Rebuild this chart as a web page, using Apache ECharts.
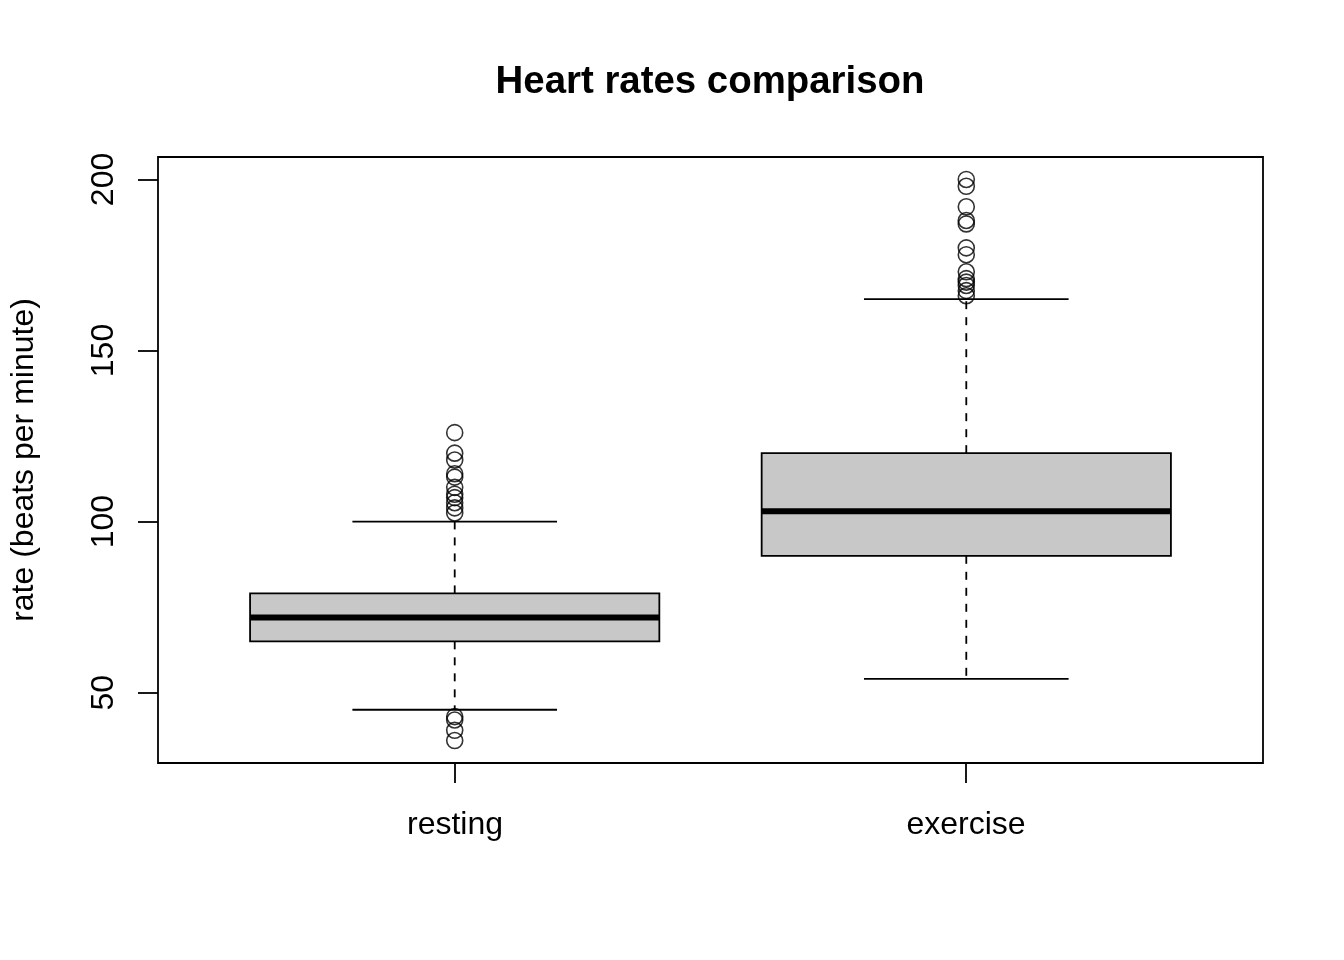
<!DOCTYPE html>
<html>
<head>
<meta charset="utf-8">
<script src="https://cdn.jsdelivr.net/npm/echarts@6/dist/echarts.min.js"></script>
<style>html,body{margin:0;padding:0;background:#fff}#c{width:1344px;height:960px}</style>
</head>
<body>
<div id="c"></div>
<script>
const categories = ['resting', 'exercise'];
// [min whisker, Q1, median, Q3, max whisker]
const boxStats = [
  [45, 65, 72, 79, 100],
  [54, 90, 103, 120, 165]
];
const restingOutliers = [126, 120, 118, 114, 113, 110, 108, 107, 105.5, 104, 102.5, 43, 42, 39, 36];
const exerciseOutliers = [200, 198, 192, 188, 187, 180, 178, 173, 171, 170, 169, 167.5, 166];
const yTicks = [50, 100, 150, 200];
const yMin = 29.44, yMax = 206.56;

const FONT = 'Liberation Sans, Arial, Helvetica, sans-serif';

const boxData = boxStats.map((s, i) => [i + 1].concat(s));
const outlierData = []
  .concat(restingOutliers.map(v => [1, v]))
  .concat(exerciseOutliers.map(v => [2, v]));

const chart = echarts.init(document.getElementById('c'), null, {renderer: 'canvas'});

function renderBox(params, api) {
  const x = api.value(0);
  const lo = api.value(1), q1 = api.value(2), med = api.value(3), q3 = api.value(4), hi = api.value(5);
  const halfW = (api.coord([x + 0.4, 0])[0] - api.coord([x - 0.4, 0])[0]) / 2;
  const cx = api.coord([x, 0])[0];
  const yLo = api.coord([x, lo])[1], yQ1 = api.coord([x, q1])[1], yMed = api.coord([x, med])[1];
  const yQ3 = api.coord([x, q3])[1], yHi = api.coord([x, hi])[1];
  const capW = halfW / 2;
  const line = {stroke: '#000', lineWidth: 1.8};
  const dashed = {stroke: '#000', lineWidth: 1.8, lineDash: [8, 8]};
  return {
    type: 'group',
    children: [
      {type: 'line', shape: {x1: cx, y1: yQ3, x2: cx, y2: yHi}, style: dashed},
      {type: 'line', shape: {x1: cx, y1: yQ1, x2: cx, y2: yLo}, style: dashed},
      {type: 'line', shape: {x1: cx - capW, y1: yHi, x2: cx + capW, y2: yHi}, style: line},
      {type: 'line', shape: {x1: cx - capW, y1: yLo, x2: cx + capW, y2: yLo}, style: line},
      {type: 'rect', shape: {x: cx - halfW, y: yQ3, width: 2 * halfW, height: yQ1 - yQ3},
        style: {fill: '#c8c8c8', stroke: '#000', lineWidth: 1.8}},
      {type: 'line', shape: {x1: cx - halfW, y1: yMed, x2: cx + halfW, y2: yMed},
        style: {stroke: '#000', lineWidth: 6}}
    ]
  };
}

chart.setOption({
  animation: false,
  backgroundColor: '#fff',
  title: {
    text: 'Heart rates comparison',
    left: 705,
    textAlign: 'center',
    top: 58,
    textStyle: {fontFamily: FONT, fontSize: 38.4, fontWeight: 'bold', color: '#000'}
  },
  grid: [
    {left: 157, right: 81, top: 157, bottom: 197, show: true, borderColor: '#000', borderWidth: 1.8, backgroundColor: 'transparent'},
    {left: 199.5, width: 1022, top: 157, bottom: 197, show: false}
  ],
  xAxis: [
    {type: 'value', gridIndex: 0, min: 0.42, max: 2.58, show: false},
    {type: 'category', gridIndex: 1, data: categories, boundaryGap: true,
      axisLine: {show: false},
      axisTick: {show: true, alignWithLabel: true, length: 20, inside: false, lineStyle: {color: '#000', width: 1.8}},
      axisLabel: {fontFamily: FONT, fontSize: 32, color: '#000', margin: 46},
      splitLine: {show: false}}
  ],
  yAxis: [
    {type: 'value', gridIndex: 0, min: yMin, max: yMax,
      name: 'rate (beats per minute)', nameLocation: 'middle', nameRotate: 90, nameGap: 118,
      nameTextStyle: {fontFamily: FONT, fontSize: 32, color: '#000'},
      axisLine: {show: false},
      axisTick: {show: true, length: 20, inside: false, customValues: yTicks, lineStyle: {color: '#000', width: 1.8}},
      axisLabel: {show: true, rotate: 90, customValues: yTicks, fontFamily: FONT, fontSize: 32, color: '#000', margin: 38},
      splitLine: {show: false}},
    {type: 'value', gridIndex: 1, min: yMin, max: yMax, show: false}
  ],
  series: [
    {type: 'custom', xAxisIndex: 0, yAxisIndex: 0, data: boxData, renderItem: renderBox,
      encode: {x: 0, y: [1, 2, 3, 4, 5]}, z: 2},
    {type: 'scatter', xAxisIndex: 0, yAxisIndex: 0, data: outlierData, symbol: 'circle', symbolSize: 16,
      itemStyle: {color: 'transparent', borderColor: '#000', borderWidth: 1.6}, z: 3}
  ]
});
</script>
</body>
</html>
